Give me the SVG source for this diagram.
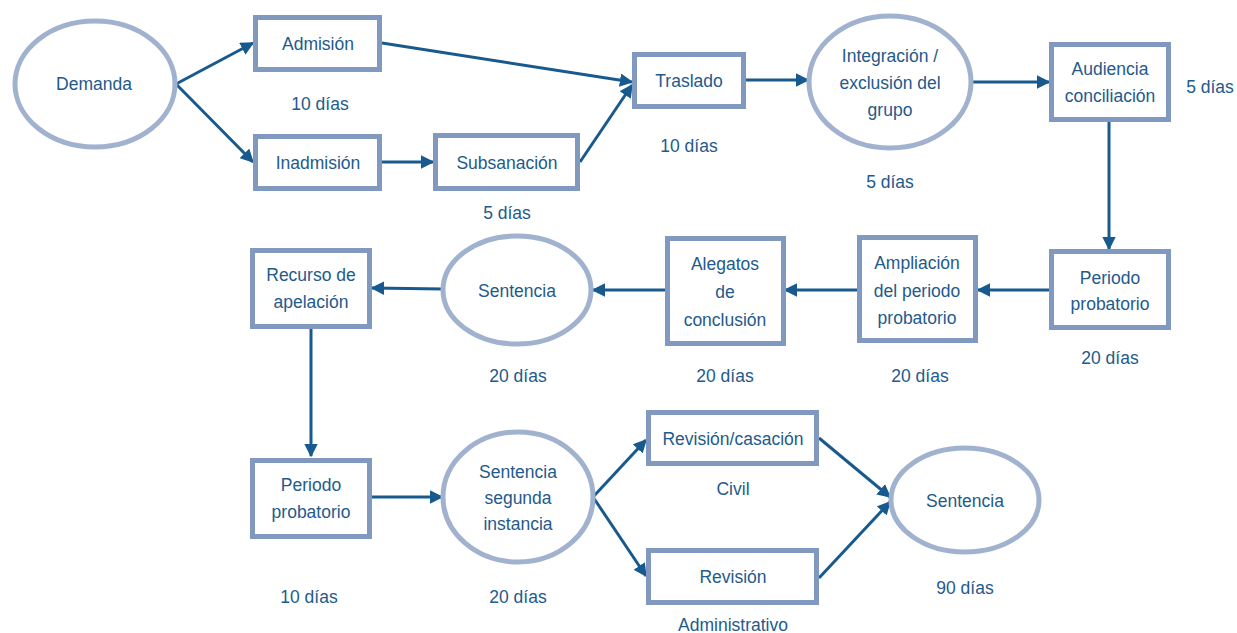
<svg xmlns="http://www.w3.org/2000/svg" width="1237" height="633" viewBox="0 0 1237 633">
<style>
.box{fill:#fff;stroke:#8299bf;stroke-width:5}
.ell{fill:#fff;stroke:#a1b2cf;stroke-width:5}
text{font-family:"Liberation Sans",Arial,sans-serif;font-size:17.5px;fill:#235a8c;text-anchor:middle}
.c{fill:none;stroke:#185a8d;stroke-width:3;marker-end:url(#ah)}
</style>
<defs>
<marker id="ah" viewBox="0 0 10 10" refX="9" refY="5" markerWidth="4.5" markerHeight="4.5" orient="auto" markerUnits="strokeWidth">
<path d="M0,0 L10,5 L0,10 z" fill="#185a8d"/>
</marker>
</defs>
<rect width="1237" height="633" fill="#fff"/>
<g id="connectors">
<line class="c" x1="176" y1="84" x2="253" y2="43"/>
<line class="c" x1="176" y1="84" x2="253" y2="162"/>
<line class="c" x1="382" y1="43" x2="632" y2="82"/>
<line class="c" x1="382" y1="162" x2="433" y2="162"/>
<line class="c" x1="580" y1="162" x2="632" y2="85"/>
<line class="c" x1="746" y1="80" x2="808" y2="80"/>
<line class="c" x1="972" y1="82" x2="1049" y2="82"/>
<line class="c" x1="1109" y1="122" x2="1109" y2="249"/>
<line class="c" x1="1049" y1="290" x2="978" y2="290"/>
<line class="c" x1="857" y1="290" x2="785" y2="290"/>
<line class="c" x1="665" y1="290" x2="593" y2="290"/>
<line class="c" x1="443" y1="289" x2="372" y2="288"/>
<line class="c" x1="311" y1="328" x2="311" y2="456"/>
<line class="c" x1="372" y1="497" x2="442" y2="497"/>
<line class="c" x1="593" y1="497" x2="646" y2="440"/>
<line class="c" x1="593" y1="497" x2="646" y2="576"/>
<line class="c" x1="819" y1="438" x2="890" y2="497"/>
<line class="c" x1="819" y1="578" x2="890" y2="502"/>
</g>
<g id="demanda"><ellipse class="ell" cx="95" cy="84" rx="80" ry="63"/><text x="94" y="90">Demanda</text></g>
<g id="admision"><rect class="box" x="255.5" y="17.5" width="124" height="52"/><text x="318" y="50">Admisión</text></g>
<g id="lbl-admision"><text x="320" y="110">10 días</text></g>
<g id="inadmision"><rect class="box" x="255.5" y="136.5" width="124" height="52"/><text x="318" y="169">Inadmisión</text></g>
<g id="subsanacion"><rect class="box" x="435.5" y="135.5" width="142" height="53"/><text x="507" y="169">Subsanación</text></g>
<g id="lbl-subsanacion"><text x="507" y="219">5 días</text></g>
<g id="traslado"><rect class="box" x="634.5" y="54.5" width="109" height="52"/><text x="689" y="87">Traslado</text></g>
<g id="lbl-traslado"><text x="689" y="152">10 días</text></g>
<g id="integracion"><ellipse class="ell" cx="890" cy="82" rx="81" ry="66"/><text x="890" y="62">Integración /</text><text x="890" y="89">exclusión del</text><text x="890" y="116">grupo</text></g>
<g id="lbl-integracion"><text x="890" y="188">5 días</text></g>
<g id="audiencia"><rect class="box" x="1051.5" y="44.5" width="117" height="75"/><text x="1110" y="75">Audiencia</text><text x="1110" y="102">conciliación</text></g>
<g id="lbl-audiencia"><text x="1210" y="93">5 días</text></g>
<g id="periodo1"><rect class="box" x="1051.5" y="251.5" width="117" height="76"/><text x="1110" y="284">Periodo</text><text x="1110" y="310">probatorio</text></g>
<g id="lbl-periodo1"><text x="1110" y="364">20 días</text></g>
<g id="ampliacion"><rect class="box" x="859.5" y="237.5" width="116" height="103"/><text x="917" y="269">Ampliación</text><text x="917" y="297">del periodo</text><text x="917" y="324">probatorio</text></g>
<g id="lbl-ampliacion"><text x="920" y="382">20 días</text></g>
<g id="alegatos"><rect class="box" x="667.5" y="238.5" width="116" height="105"/><text x="725" y="270">Alegatos</text><text x="725" y="298">de</text><text x="725" y="326">conclusión</text></g>
<g id="lbl-alegatos"><text x="725" y="382">20 días</text></g>
<g id="sentencia1"><ellipse class="ell" cx="517" cy="290" rx="74" ry="54"/><text x="517" y="297">Sentencia</text></g>
<g id="lbl-sentencia1"><text x="518" y="382">20 días</text></g>
<g id="recurso"><rect class="box" x="252.5" y="250.5" width="117" height="76"/><text x="311" y="281">Recurso de</text><text x="311" y="308">apelación</text></g>
<g id="periodo2"><rect class="box" x="252.5" y="460.5" width="117" height="76"/><text x="311" y="491">Periodo</text><text x="311" y="518">probatorio</text></g>
<g id="lbl-periodo2"><text x="309" y="603">10 días</text></g>
<g id="sentencia2"><ellipse class="ell" cx="518" cy="497" rx="75" ry="65"/><text x="518" y="478">Sentencia</text><text x="518" y="504">segunda</text><text x="518" y="530">instancia</text></g>
<g id="lbl-sentencia2"><text x="518" y="603">20 días</text></g>
<g id="revcas"><rect class="box" x="648.5" y="412.5" width="168" height="51"/><text x="733" y="445">Revisión/casación</text></g>
<g id="lbl-civil"><text x="733" y="495">Civil</text></g>
<g id="revision"><rect class="box" x="648.5" y="550.5" width="168" height="52"/><text x="733" y="583">Revisión</text></g>
<g id="lbl-admin"><text x="733" y="631">Administrativo</text></g>
<g id="sentencia3"><ellipse class="ell" cx="965" cy="500" rx="74" ry="52"/><text x="965" y="507">Sentencia</text></g>
<g id="lbl-sentencia3"><text x="965" y="594">90 días</text></g>
</svg>
